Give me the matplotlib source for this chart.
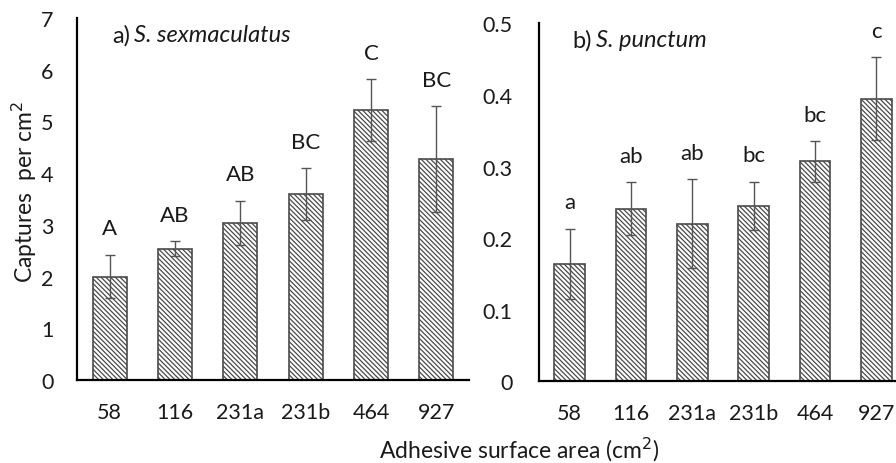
import matplotlib
matplotlib.use("Agg")
import matplotlib.pyplot as plt

plt.rcParams['font.family'] = ['Lato', 'DejaVu Sans']
plt.rcParams['hatch.linewidth'] = 0.9
plt.rcParams['hatch.color'] = '#3a3a3a'

areas = ["58", "116", "231a", "231b", "464", "927"]

sex_means = [2.0, 2.54, 3.04, 3.60, 5.22, 4.27]
sex_err = [0.42, 0.15, 0.43, 0.50, 0.60, 1.03]
sex_letters = ["A", "AB", "AB", "BC", "C", "BC"]

pun_means = [0.164, 0.241, 0.220, 0.245, 0.307, 0.395]
pun_err = [0.049, 0.037, 0.062, 0.034, 0.028, 0.058]
pun_letters = ["a", "ab", "ab", "bc", "bc", "c"]

FS = 15.5
TXT = '#1a1a1a'


def draw_panel(ax, means, errs, letters, prefix, species, width, ymax,
               yticks, ylabels):
    x = range(len(areas))
    ax.bar(x, means, width=width, color='white', edgecolor='#4a4a4a',
           linewidth=1.2, hatch='\\\\\\\\\\\\\\')
    ax.errorbar(x, means, yerr=errs, fmt='none', ecolor='#555555',
                elinewidth=1.0, capsize=3.5, capthick=1.0)
    for i, (m, e, lab) in enumerate(zip(means, errs, letters)):
        ax.annotate(lab, (i, m + e), xytext=(0, 19), textcoords='offset points',
                    ha='center', va='center', fontsize=FS + 0.5, color=TXT)
    ax.set_xlim(-0.5, len(areas) - 0.5)
    ax.set_ylim(0, ymax)
    ax.set_xticks(list(x))
    ax.set_xticklabels(areas)
    ax.set_yticks(yticks)
    ax.set_yticklabels(ylabels)
    ax.tick_params(axis='both', length=0, labelsize=FS, colors=TXT)
    ax.tick_params(axis='x', pad=16)
    ax.spines['top'].set_visible(False)
    ax.spines['right'].set_visible(False)
    ax.spines['left'].set_linewidth(1.6)
    ax.spines['bottom'].set_linewidth(1.6)
    t = ax.text(0.09, 0.955, prefix, transform=ax.transAxes, fontsize=17,
                ha='left', va='center', color=TXT)
    ax.annotate(species, xy=(1, 0.5), xycoords=t, xytext=(3, 0),
                textcoords='offset points', fontsize=17, ha='left',
                va='center', style='italic', color=TXT)


fig = plt.figure(figsize=(8.96, 4.64), dpi=100)
ax1 = fig.add_axes([0.0859, 0.1789, 0.4375, 0.780])
ax2 = fig.add_axes([0.6016, 0.1767, 0.4108, 0.7705])

draw_panel(ax1, sex_means, sex_err, sex_letters, "a)", "S. sexmaculatus",
           0.52, 7, range(8), [str(v) for v in range(8)])
ax1.tick_params(axis='y', pad=17)

draw_panel(ax2, pun_means, pun_err, pun_letters, "b)", "S. punctum",
           0.5, 0.5, [0, 0.1, 0.2, 0.3, 0.4, 0.5],
           ["0", "0.1", "0.2", "0.3", "0.4", "0.5"])
ax2.tick_params(axis='y', pad=19)

fig.text(0.027, 0.586, "Captures  per cm$^2$", rotation=90, ha='center',
         va='center', fontsize=16.5, color=TXT)
fig.text(0.580, 0.030, "Adhesive surface area (cm$^2$)", ha='center',
         va='center', fontsize=16.5, color=TXT)

fig.savefig("out.png", dpi=100)
